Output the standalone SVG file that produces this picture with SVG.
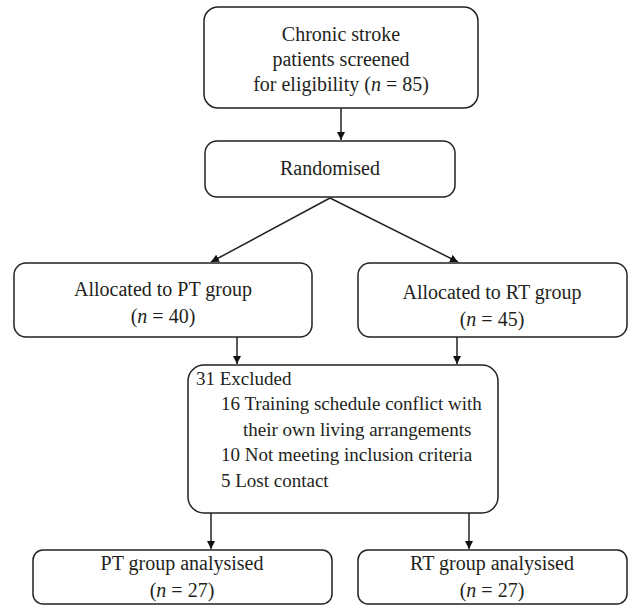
<svg xmlns="http://www.w3.org/2000/svg" width="642" height="610" viewBox="0 0 642 610">
<defs>
<style>
.box{fill:#fff;stroke:#222;stroke-width:1.5}
.t{font-family:"Liberation Serif","Times New Roman",serif;font-size:19px;fill:#231f20}
.c{text-anchor:middle;font-size:20px}
.i{font-style:italic}
.ln{stroke:#222;stroke-width:1.5;fill:none}
</style>
<marker id="ah" viewBox="0 0 10 10" refX="10" refY="5" markerWidth="8" markerHeight="8" markerUnits="userSpaceOnUse" orient="auto">
<path d="M0,0 L10,5 L0,10 z" fill="#111"/>
</marker>
</defs>
<rect width="642" height="610" fill="#fff"/>
<g id="connectors">
<line class="ln" x1="341" y1="108" x2="341" y2="140" marker-end="url(#ah)"/>
<line class="ln" x1="330" y1="198" x2="211" y2="262" marker-end="url(#ah)"/>
<line class="ln" x1="330" y1="198" x2="458" y2="262" marker-end="url(#ah)"/>
<line class="ln" x1="237" y1="337" x2="237" y2="364" marker-end="url(#ah)"/>
<line class="ln" x1="457" y1="337" x2="457" y2="364" marker-end="url(#ah)"/>
<line class="ln" x1="211" y1="513" x2="211" y2="549" marker-end="url(#ah)"/>
<line class="ln" x1="469" y1="513" x2="469" y2="549" marker-end="url(#ah)"/>
</g>
<g id="screened">
<rect class="box" x="204" y="7" width="274" height="101" rx="14"/>
<text class="t c" x="341" y="41">Chronic stroke</text>
<text class="t c" x="341" y="66">patients screened</text>
<text class="t c" x="341" y="91">for eligibility (<tspan class="i">n</tspan> = 85)</text>
</g>
<g id="randomised">
<rect class="box" x="205" y="141" width="250" height="56" rx="12"/>
<text class="t c" x="330" y="175">Randomised</text>
</g>
<g id="pt-alloc">
<rect class="box" x="14" y="263" width="298" height="74" rx="12"/>
<text class="t c" x="163" y="296">Allocated to PT group</text>
<text class="t c" x="163" y="323">(<tspan class="i">n</tspan> = 40)</text>
</g>
<g id="rt-alloc">
<rect class="box" x="358" y="263" width="269" height="74" rx="12"/>
<text class="t c" x="492" y="299">Allocated to RT group</text>
<text class="t c" x="492" y="326">(<tspan class="i">n</tspan> = 45)</text>
</g>
<g id="excluded">
<rect class="box" x="188" y="365" width="310" height="148" rx="16"/>
<text class="t" x="196" y="385">31 Excluded</text>
<text class="t" x="221" y="410">16 Training schedule conflict with</text>
<text class="t" x="243" y="436">their own living arrangements</text>
<text class="t" x="221" y="461">10 Not meeting inclusion criteria</text>
<text class="t" x="221" y="487">5 Lost contact</text>
</g>
<g id="pt-analysed">
<rect class="box" x="33" y="550" width="299" height="54" rx="10"/>
<text class="t c" x="182" y="570">PT group analysised</text>
<text class="t c" x="182" y="597">(<tspan class="i">n</tspan> = 27)</text>
</g>
<g id="rt-analysed">
<rect class="box" x="358" y="550" width="269" height="54" rx="10"/>
<text class="t c" x="492" y="570">RT group analysised</text>
<text class="t c" x="492" y="597">(<tspan class="i">n</tspan> = 27)</text>
</g>
</svg>
